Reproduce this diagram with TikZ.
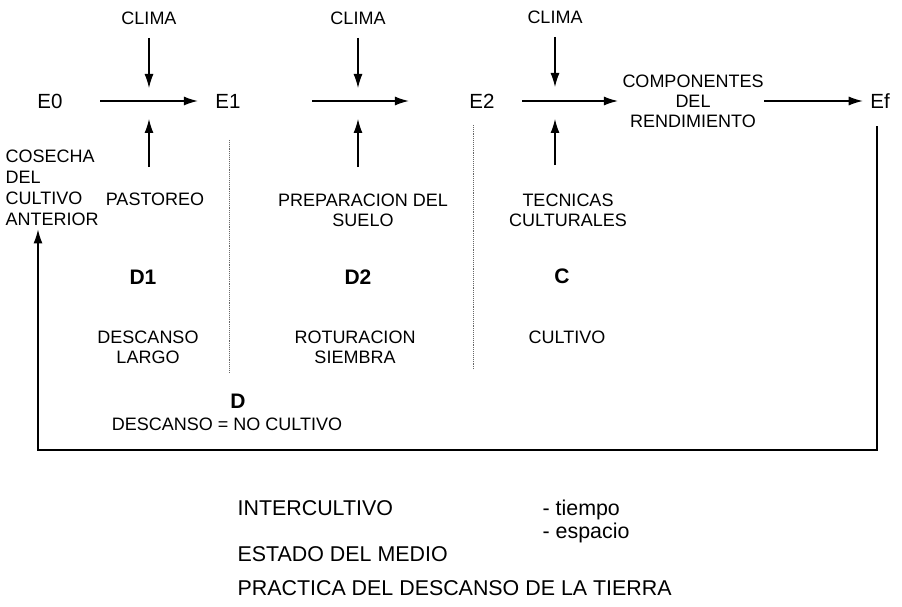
\documentclass[tikz,border=0pt]{standalone}
\usepackage{fontspec}
\setmainfont{Liberation Sans}
\usetikzlibrary{arrows.meta}

\begin{document}
\begin{tikzpicture}[->,>={Latex[length=14pt,width=9pt]},x=1pt,y=-1pt,line width=1.2pt]
              \tikzstyle{every node}=[inner sep=0pt,align=center,font=\fontsize{18}{20}\selectfont];
              \tikzstyle{estado}=[font=\fontsize{20.5}{22}\selectfont];
              \tikzstyle{fase}=[font=\fontsize{21}{23}\selectfont\bfseries];
              \tikzstyle{pie}=[anchor=base west,font=\fontsize{21.4}{23}\selectfont];
              \tikzstyle{limite}=[-,draw,densely dotted,line width=0.9pt,black!60];
                \useasboundingbox (0,0) rectangle (902,607);

                \path (149,18)  node (clima1) {CLIMA};
                \path (358,18)  node (clima2) {CLIMA};
                \path (555,17)  node (clima3) {CLIMA};
                \path (50,101)  node[estado] (e0) {E0};
                \path (228,101) node[estado] (e1) {E1};
                \path (482,101) node[estado] (e2) {E2};
                \path (693,101) node (comp) {COMPONENTES\\DEL\\RENDIMIENTO};
                \path (880,101) node[estado] (ef) {Ef};
                \path (5,188)   node[anchor=west,align=left,font=\fontsize{18}{21}\selectfont] (cosecha) {COSECHA\\DEL\\CULTIVO\\ANTERIOR};
                \path (155,199) node (pastoreo) {PASTOREO};
                \path (363,210) node (prep) {PREPARACION DEL\\SUELO};
                \path (568,210) node (tec) {TECNICAS\\CULTURALES};
                \path (143,277) node[fase] (d1) {D1};
                \path (358,277) node[fase] (d2) {D2};
                \path (562,276) node[fase] (c) {C};
                \path (148,347) node (largo) {DESCANSO\\LARGO};
                \path (355,347) node (siembra) {ROTURACION\\SIEMBRA};
                \path (567,337) node (cultivo) {CULTIVO};
                \path (238,401) node[fase] (d) {D};
                \path (227,424) node (nocultivo) {DESCANSO = NO CULTIVO};
                \path (237,515) node[pie] (intercultivo) {INTERCULTIVO};
                \path (542,515) node[pie] (tiempo) {- tiempo};
                \path (542,538) node[pie] (espacio) {- espacio};
                \path (237,561) node[pie] (medio) {ESTADO DEL MEDIO};
                \path (237,595) node[pie] (practica) {PRACTICA DEL DESCANSO DE LA TIERRA};

                \coordinate (j1) at (149,101);
                \coordinate (j2) at (358,101);
                \coordinate (j3) at (555,101);
                \coordinate (bd) at (877,450);
                \coordinate (bi) at (38,450);

                \path[->,draw,shorten <=13pt,shorten >=13pt] (clima1) -- (j1);
                \path[->,draw,shorten <=13pt,shorten >=13pt] (clima2) -- (j2);
                \path[->,draw,shorten <=13pt,shorten >=14pt] (clima3) -- (j3);
                \path[->,draw,shorten <=25pt,shorten >=18pt] (pastoreo.north -| j1) -- (j1);
                \path[->,draw,shorten <=26pt,shorten >=18pt] (prep.north -| j2) -- (j2);
                \path[->,draw,shorten <=28pt,shorten >=18pt] (tec.north -| j3) -- (j3);

                \path[->,draw,shorten <=37pt,shorten >=17pt] (e0) -- (e1);
                \path[->,draw,shorten <=71pt,shorten >=60pt] (e1) -- (e2);
                \path[->,draw,shorten <=27pt,shorten >=4pt] (e2) -- (comp);
                \path[->,draw,shorten >=7pt] (comp) -- (ef);
                \path[->,draw,shorten <=17pt,shorten >=3pt] (ef.south -| bd) -- (bd) -- (bi) -- (cosecha.south -| bi);

                \path[limite] (229,140) -- (229,373);
                \path[limite] (473,125) -- (473,370);
            \end{tikzpicture}
\end{document}
